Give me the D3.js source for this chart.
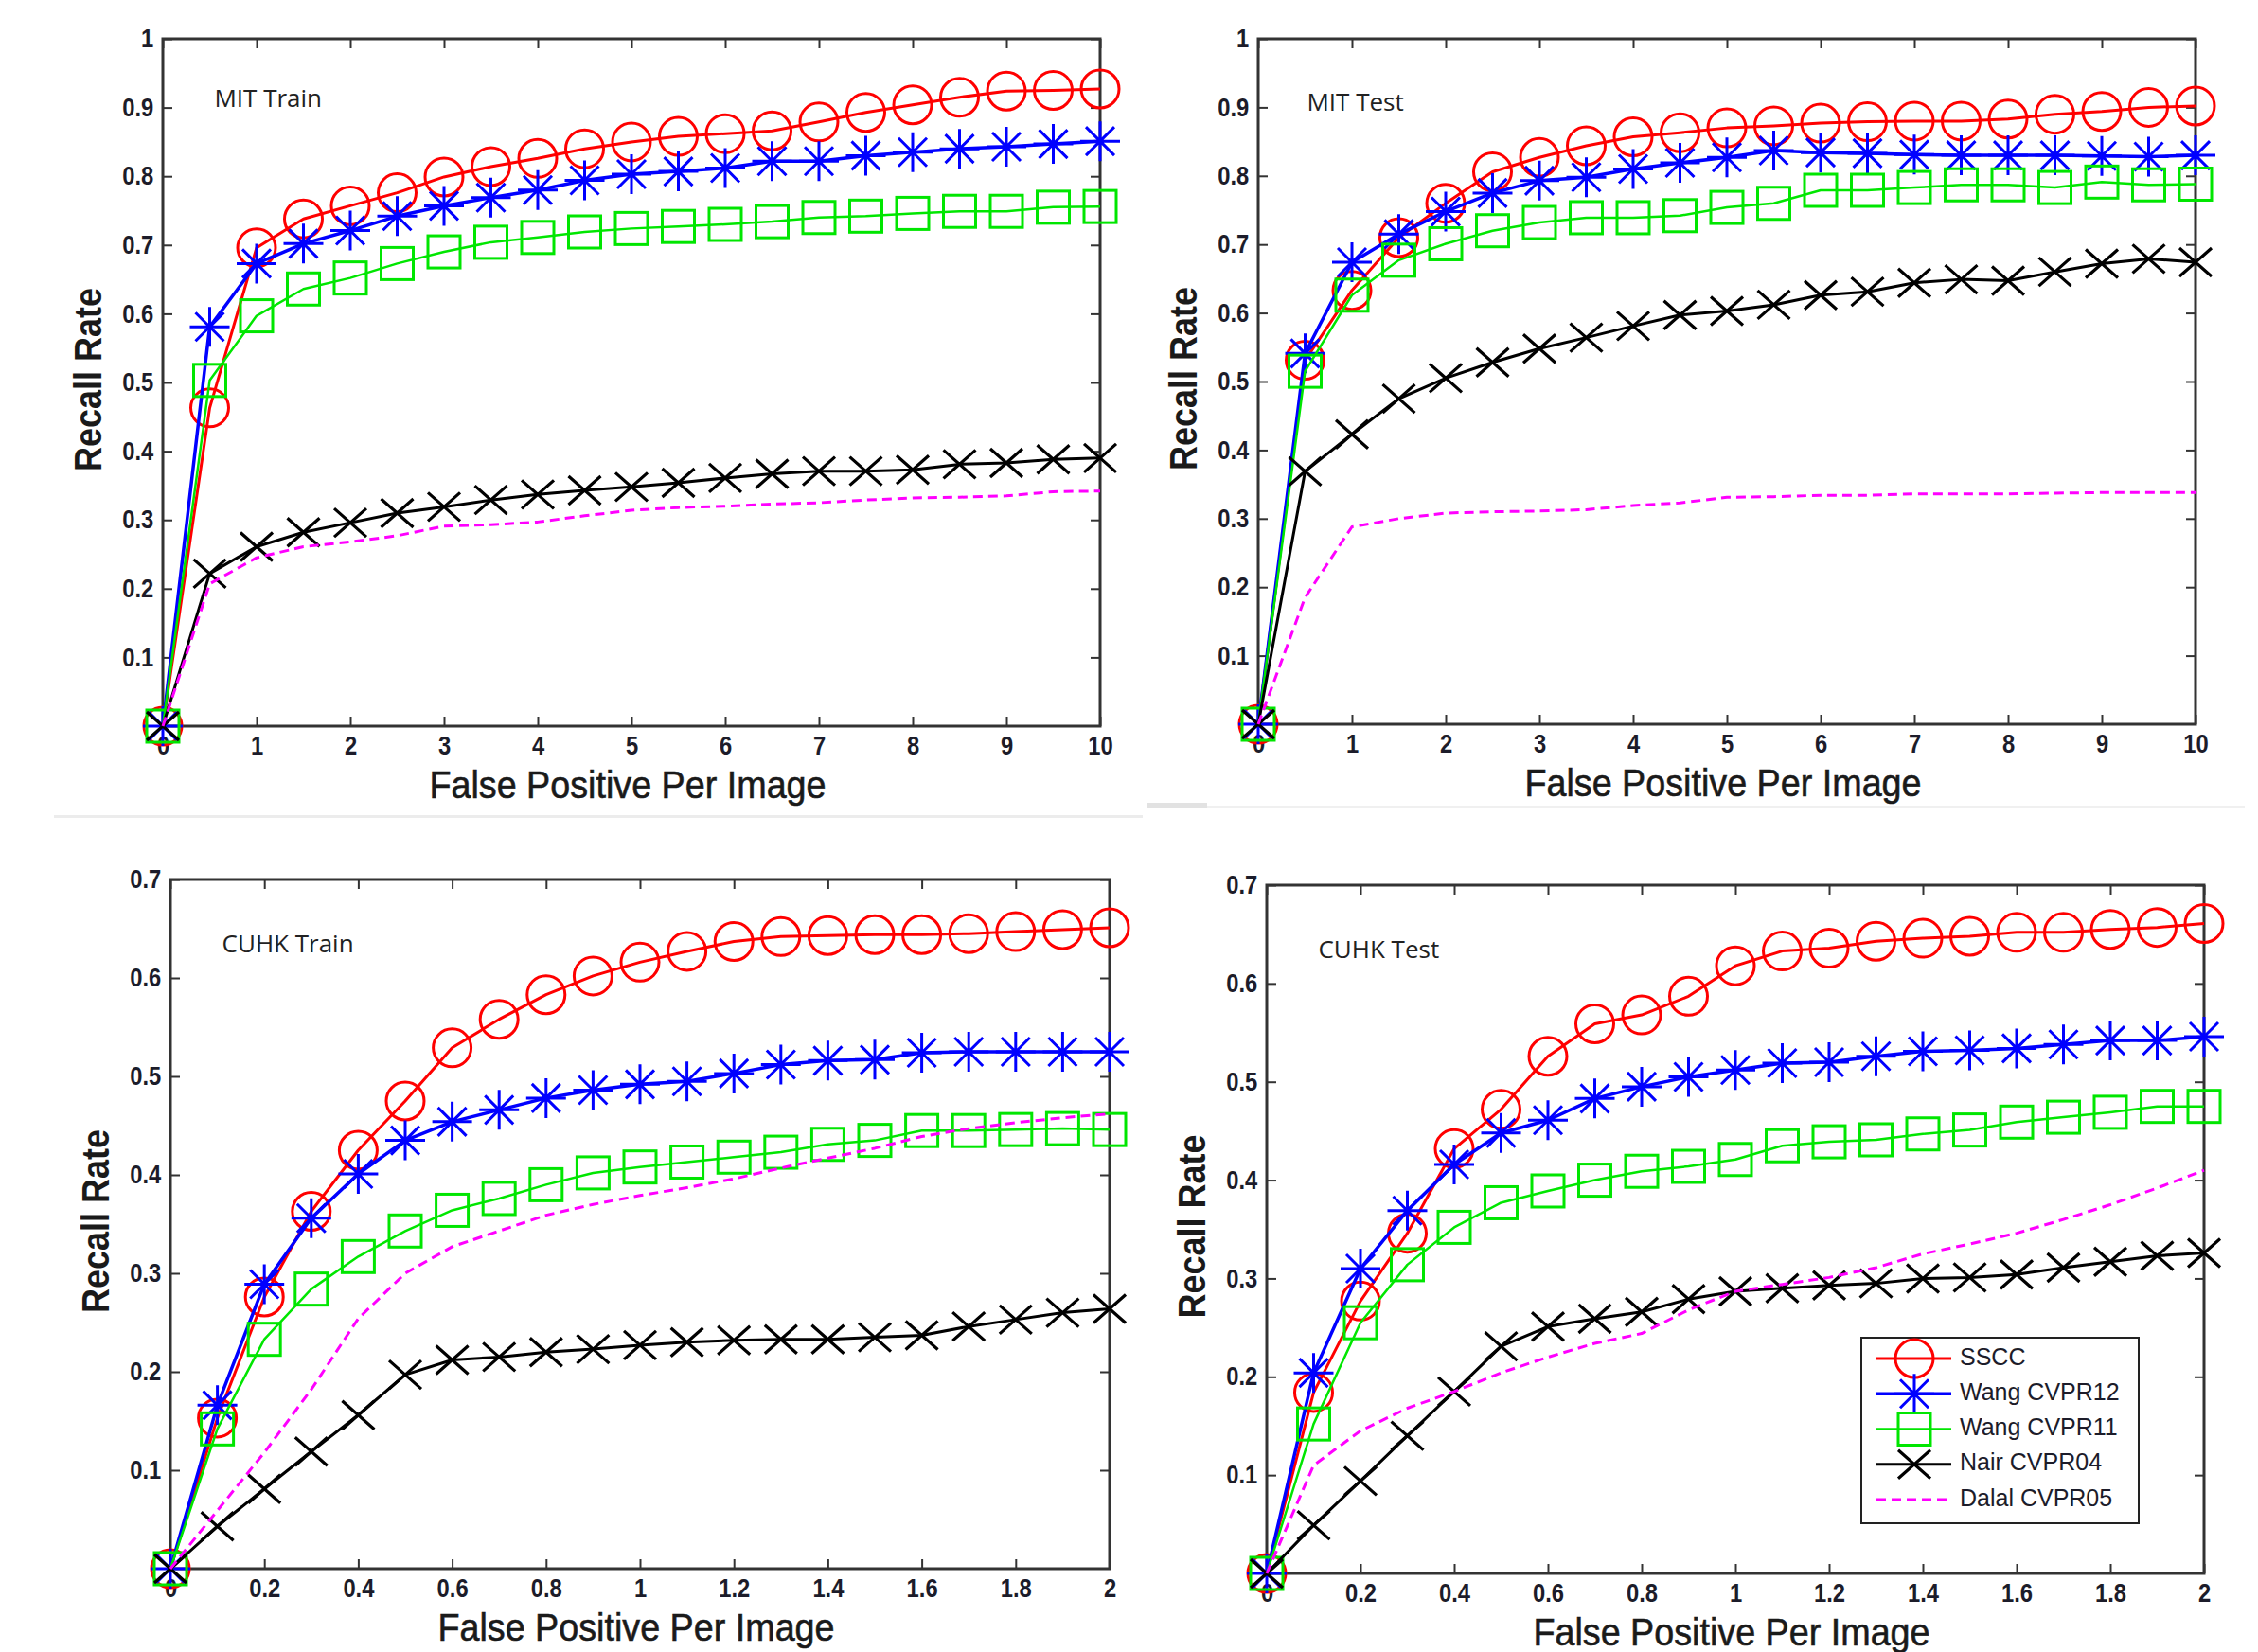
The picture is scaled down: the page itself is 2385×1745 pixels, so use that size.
<!DOCTYPE html>
<html>
<head>
<meta charset="utf-8">
<script src="https://cdn.jsdelivr.net/npm/d3@7"></script>
<style>
  html, body { margin: 0; padding: 0; background: #fff; }
  svg { display: block; }
</style>
</head>
<body>
<svg id="chart" width="2385" height="1745"></svg>
<script>
// ---- data ----
const fppiMit = [0, 0.5, 1, 1.5, 2, 2.5, 3, 3.5, 4, 4.5, 5, 5.5, 6, 6.5, 7, 7.5, 8, 8.5, 9, 9.5, 10];
const fppiCuhk = [0, 0.1, 0.2, 0.3, 0.4, 0.5, 0.6, 0.7, 0.8, 0.9, 1, 1.1, 1.2, 1.3, 1.4, 1.5, 1.6, 1.7, 1.8, 1.9, 2];

const mitXTicks = [0, 1, 2, 3, 4, 5, 6, 7, 8, 9, 10];
const mitYTicks = [0.1, 0.2, 0.3, 0.4, 0.5, 0.6, 0.7, 0.8, 0.9, 1];
const cuhkXTicks = [0, 0.2, 0.4, 0.6, 0.8, 1, 1.2, 1.4, 1.6, 1.8, 2];
const cuhkYTicks = [0.1, 0.2, 0.3, 0.4, 0.5, 0.6, 0.7];

const methods = ["SSCC", "Wang CVPR12", "Wang CVPR11", "Nair CVPR04", "Dalal CVPR05"];
const panelTitles = ["MIT Train", "MIT Test", "CUHK Train", "CUHK Test"];

// MIT Train
const mitTrainSSCC  = [0, 0.463, 0.696, 0.738, 0.757, 0.776, 0.799, 0.814, 0.826, 0.840, 0.850, 0.858, 0.862, 0.866, 0.879, 0.893, 0.904, 0.915, 0.924, 0.925, 0.927];
const mitTrainWang12 = [0, 0.581, 0.673, 0.702, 0.721, 0.742, 0.757, 0.769, 0.780, 0.794, 0.803, 0.807, 0.812, 0.822, 0.822, 0.830, 0.835, 0.840, 0.843, 0.847, 0.851];
const mitTrainWang11 = [0, 0.503, 0.597, 0.636, 0.652, 0.673, 0.690, 0.704, 0.711, 0.719, 0.724, 0.727, 0.730, 0.734, 0.740, 0.742, 0.746, 0.749, 0.749, 0.755, 0.756];
const mitTrainNair  = [0, 0.222, 0.261, 0.282, 0.296, 0.310, 0.319, 0.329, 0.337, 0.343, 0.348, 0.354, 0.361, 0.367, 0.371, 0.371, 0.373, 0.381, 0.383, 0.388, 0.390];
const mitTrainDalal = [0, 0.207, 0.245, 0.261, 0.268, 0.277, 0.291, 0.293, 0.297, 0.306, 0.314, 0.318, 0.320, 0.323, 0.325, 0.329, 0.332, 0.333, 0.335, 0.341, 0.342];

// MIT Test
const mitTestSSCC  = [0, 0.531, 0.633, 0.710, 0.760, 0.806, 0.827, 0.844, 0.857, 0.863, 0.870, 0.873, 0.877, 0.879, 0.880, 0.880, 0.883, 0.890, 0.894, 0.900, 0.902];
const mitTestWang12 = [0, 0.541, 0.674, 0.715, 0.748, 0.775, 0.793, 0.798, 0.810, 0.819, 0.827, 0.837, 0.834, 0.833, 0.831, 0.830, 0.830, 0.830, 0.829, 0.828, 0.830];
const mitTestWang11 = [0, 0.515, 0.626, 0.677, 0.701, 0.720, 0.732, 0.739, 0.739, 0.742, 0.754, 0.760, 0.779, 0.779, 0.783, 0.787, 0.787, 0.783, 0.791, 0.787, 0.788];
const mitTestNair  = [0, 0.369, 0.423, 0.475, 0.505, 0.528, 0.548, 0.564, 0.581, 0.597, 0.603, 0.612, 0.626, 0.631, 0.644, 0.649, 0.647, 0.660, 0.672, 0.679, 0.674];
const mitTestDalal = [0, 0.185, 0.288, 0.300, 0.308, 0.310, 0.311, 0.313, 0.319, 0.323, 0.331, 0.332, 0.334, 0.334, 0.336, 0.336, 0.336, 0.337, 0.338, 0.338, 0.338];

// CUHK Train
const cuhkTrainSSCC  = [0, 0.153, 0.276, 0.363, 0.425, 0.475, 0.529, 0.558, 0.583, 0.602, 0.616, 0.627, 0.637, 0.642, 0.643, 0.644, 0.644, 0.645, 0.647, 0.649, 0.651];
const cuhkTrainWang12 = [0, 0.166, 0.289, 0.356, 0.401, 0.435, 0.454, 0.466, 0.478, 0.486, 0.492, 0.495, 0.503, 0.512, 0.516, 0.517, 0.524, 0.525, 0.525, 0.525, 0.525];
const cuhkTrainWang11 = [0, 0.142, 0.233, 0.284, 0.317, 0.343, 0.364, 0.376, 0.390, 0.402, 0.408, 0.413, 0.418, 0.423, 0.431, 0.435, 0.445, 0.445, 0.446, 0.447, 0.446];
const cuhkTrainNair  = [0, 0.043, 0.081, 0.119, 0.156, 0.197, 0.212, 0.215, 0.220, 0.223, 0.227, 0.230, 0.232, 0.233, 0.233, 0.235, 0.237, 0.246, 0.253, 0.260, 0.264];
const cuhkTrainDalal = [0, 0.059, 0.118, 0.182, 0.254, 0.300, 0.327, 0.343, 0.359, 0.370, 0.379, 0.387, 0.396, 0.407, 0.417, 0.427, 0.439, 0.447, 0.453, 0.458, 0.462];

// CUHK Test
const cuhkTestSSCC  = [0, 0.184, 0.277, 0.346, 0.432, 0.472, 0.526, 0.559, 0.568, 0.587, 0.618, 0.633, 0.636, 0.643, 0.646, 0.648, 0.652, 0.652, 0.655, 0.657, 0.661];
const cuhkTestWang12 = [0, 0.204, 0.310, 0.369, 0.416, 0.448, 0.461, 0.483, 0.495, 0.505, 0.512, 0.519, 0.520, 0.526, 0.531, 0.532, 0.534, 0.538, 0.542, 0.542, 0.546];
const cuhkTestWang11 = [0, 0.152, 0.255, 0.314, 0.352, 0.377, 0.389, 0.400, 0.409, 0.414, 0.421, 0.435, 0.439, 0.441, 0.447, 0.451, 0.459, 0.464, 0.469, 0.475, 0.475];
const cuhkTestNair  = [0, 0.049, 0.094, 0.140, 0.185, 0.231, 0.251, 0.259, 0.266, 0.279, 0.287, 0.290, 0.293, 0.295, 0.300, 0.301, 0.304, 0.311, 0.317, 0.323, 0.326];
const cuhkTestDalal = [0, 0.110, 0.145, 0.168, 0.185, 0.204, 0.220, 0.234, 0.244, 0.268, 0.287, 0.294, 0.301, 0.311, 0.325, 0.335, 0.346, 0.360, 0.375, 0.392, 0.410];

// ---- styles ----
const colors = ["#ff0000", "#0000ff", "#00e600", "#000000", "#ff00ff"];
const markers = ["circle", "star", "square", "cross", null];
const lineWidths = [3, 3.5, 2.5, 3, 3];

const svg = d3.select("#chart");

// faint page separators from the source scan
svg.append("rect").attr("x", 57).attr("y", 861).attr("width", 1150).attr("height", 3).attr("fill", "#ececec");
svg.append("rect").attr("x", 1211).attr("y", 851).attr("width", 1160).attr("height", 2).attr("fill", "#f0f0f0");
svg.append("rect").attr("x", 1211).attr("y", 848).attr("width", 64).attr("height", 6).attr("fill", "#e2e2e2");

const panels = [
  { title: panelTitles[0], box: [172, 1162, 41, 767], xs: fppiMit, xMax: 10, yMax: 1, xt: mitXTicks, yt: mitYTicks,
    series: [mitTrainSSCC, mitTrainWang12, mitTrainWang11, mitTrainNair, mitTrainDalal], tpos: [0.55, 0.91] },
  { title: panelTitles[1], box: [1329, 2319, 41, 765], xs: fppiMit, xMax: 10, yMax: 1, xt: mitXTicks, yt: mitYTicks,
    series: [mitTestSSCC, mitTestWang12, mitTestWang11, mitTestNair, mitTestDalal], tpos: [0.52, 0.905] },
  { title: panelTitles[2], box: [180, 1172, 929, 1657], xs: fppiCuhk, xMax: 2, yMax: 0.7, xt: cuhkXTicks, yt: cuhkYTicks,
    series: [cuhkTrainSSCC, cuhkTrainWang12, cuhkTrainWang11, cuhkTrainNair, cuhkTrainDalal], tpos: [0.11, 0.633] },
  { title: panelTitles[3], box: [1338, 2328, 935, 1662], xs: fppiCuhk, xMax: 2, yMax: 0.7, xt: cuhkXTicks, yt: cuhkYTicks,
    series: [cuhkTestSSCC, cuhkTestWang12, cuhkTestWang11, cuhkTestNair, cuhkTestDalal], tpos: [0.11, 0.633], legend: true }
];

// draws one marker of a given kind centered at 0,0
function drawMarker(g, kind, color) {
  if (kind === "circle") {
    g.append("circle").attr("r", 20).attr("fill", "none").attr("stroke", color).attr("stroke-width", 3);
  } else if (kind === "square") {
    g.append("rect").attr("x", -17).attr("y", -17).attr("width", 34).attr("height", 34)
      .attr("fill", "none").attr("stroke", color).attr("stroke-width", 3);
  } else if (kind === "star") {
    g.append("path").attr("d", "M0,-21V21M-21,0H21M-15,-15L15,15M-15,15L15,-15")
      .attr("fill", "none").attr("stroke", color).attr("stroke-width", 3);
  } else if (kind === "cross") {
    g.append("path").attr("d", "M-17,-15L17,15M-17,15L17,-15")
      .attr("fill", "none").attr("stroke", color).attr("stroke-width", 3.2);
  }
}

const tickFont = "'Liberation Sans', Arial, sans-serif";

panels.forEach(p => {
  const [x0, x1, y0, y1] = p.box;
  const x = d3.scaleLinear().domain([0, p.xMax]).range([x0, x1]);
  const y = d3.scaleLinear().domain([0, p.yMax]).range([y1, y0]);
  const g = svg.append("g");

  // ticks: inward on all four sides, labels only on bottom/left
  const fmt = d => String(d);
  const bottom = g.append("g").attr("transform", `translate(0,${y1})`)
    .call(d3.axisBottom(x).tickValues(p.xt).tickFormat(fmt).tickSizeInner(-10).tickSizeOuter(0).tickPadding(11));
  const left = g.append("g").attr("transform", `translate(${x0},0)`)
    .call(d3.axisLeft(y).tickValues(p.yt).tickFormat(fmt).tickSizeInner(-10).tickSizeOuter(0).tickPadding(11));
  g.append("g").attr("transform", `translate(0,${y0})`)
    .call(d3.axisTop(x).tickValues(p.xt).tickFormat("").tickSizeInner(-10).tickSizeOuter(0));
  g.append("g").attr("transform", `translate(${x1},0)`)
    .call(d3.axisRight(y).tickValues(p.yt).tickFormat("").tickSizeInner(-10).tickSizeOuter(0));
  g.selectAll(".domain").remove();
  g.selectAll(".tick line").attr("stroke", "#333").attr("stroke-width", 2);
  [bottom, left].forEach(a => a.attr("font-family", tickFont).attr("font-size", 27).attr("font-weight", "bold"));
  g.selectAll(".tick text").attr("fill", "#1c1c2a").attr("transform", "scale(0.88,1)");

  // frame
  g.append("rect").attr("x", x0).attr("y", y0).attr("width", x1 - x0).attr("height", y1 - y0)
    .attr("fill", "none").attr("stroke", "#333").attr("stroke-width", 3);

  // curves
  const line = d3.line().x((d, i) => x(p.xs[i])).y(d => y(d));
  p.series.forEach((s, k) => {
    g.append("path").datum(s).attr("d", line)
      .attr("fill", "none").attr("stroke", colors[k]).attr("stroke-width", lineWidths[k])
      .attr("stroke-linejoin", "round")
      .attr("stroke-dasharray", k === 4 ? "10,6" : null);
    if (markers[k]) {
      s.forEach((v, i) => {
        const m = g.append("g").attr("transform", `translate(${x(p.xs[i])},${y(v)})`);
        drawMarker(m, markers[k], colors[k]);
      });
    }
  });

  // panel title inside axes
  g.append("text").attr("x", x(p.tpos[0])).attr("y", y(p.tpos[1]))
    .attr("dominant-baseline", "middle")
    .attr("font-family", "'Open Sans', sans-serif").attr("font-size", 26).attr("fill", "#222")
    .text(p.title);

  // axis labels
  g.append("text")
    .attr("transform", `translate(${(x0 + x1) / 2 - 4},${y1 + 76}) scale(0.92,1)`)
    .attr("text-anchor", "middle").attr("font-family", tickFont).attr("font-size", 41).attr("fill", "#1a1a1a")
    .attr("stroke", "#1a1a1a").attr("stroke-width", 0.6)
    .text("False Positive Per Image");
  g.append("text")
    .attr("transform", `translate(${x0 - 65},${(y0 + y1) / 2 - 3}) rotate(-90) scale(0.9,1)`)
    .attr("text-anchor", "middle").attr("font-family", tickFont).attr("font-size", 40).attr("font-weight", "bold")
    .attr("fill", "#1a1a1a")
    .text("Recall Rate");

  if (p.legend) {
    const lg = svg.append("g");
    const lx = 1966, ly = 1413;
    lg.append("rect").attr("x", lx).attr("y", ly).attr("width", 293).attr("height", 196)
      .attr("fill", "#fff").attr("stroke", "#222").attr("stroke-width", 2);
    const rowY = d3.scaleLinear().domain([0, 4]).range([ly + 22, ly + 171]);
    methods.forEach((name, k) => {
      const ry = rowY(k);
      lg.append("line").attr("x1", lx + 16).attr("x2", lx + 95).attr("y1", ry).attr("y2", ry)
        .attr("stroke", colors[k]).attr("stroke-width", lineWidths[k])
        .attr("stroke-dasharray", k === 4 ? "10,6" : null);
      if (markers[k]) {
        const m = lg.append("g").attr("transform", `translate(${lx + 56},${ry})`);
        drawMarker(m, markers[k], colors[k]);
      }
      lg.append("text").attr("x", lx + 104).attr("y", ry).attr("dominant-baseline", "middle")
        .attr("font-family", tickFont).attr("font-size", 25).attr("fill", "#1c1c2a")
        .text(name);
    });
  }
});
</script>
</body>
</html>
